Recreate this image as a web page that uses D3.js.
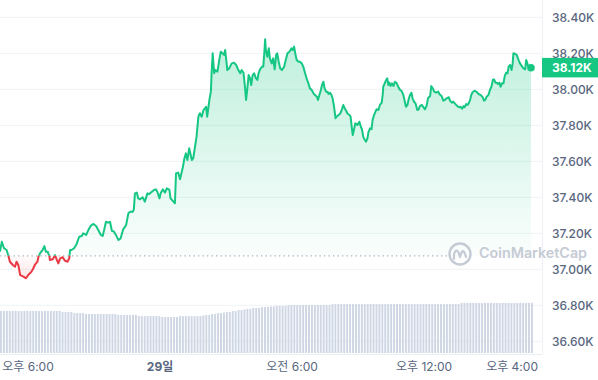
<!DOCTYPE html>
<html>
<head>
<meta charset="utf-8">
<script src="https://cdnjs.cloudflare.com/ajax/libs/d3/7.8.5/d3.min.js"></script>
<style>
body { margin: 0; background: #fff; }
text { font-family: Inter, "Noto Sans CJK KR", sans-serif; }
</style>
</head>
<body>
<div id="chart"></div>
<script>
// minutes after the first sample (28th, 16:45) and price in USD
const minutes = [
  0,5,11,18,23,27,35,41,45,50,
  55,64,71,77,86,91,95,102,105,109,
  116,121,125,130,135,136,144,150,155,159,
  164,171,177,184,189,191,195,202,209,216,
  223,227,235,241,247,255,262,268,275,280,
  284,289,295,300,305,311,316,323,329,336,
  344,350,355,362,365,368,373,377,382,389,
  395,402,407,414,420,425,429,435,438,444,
  450,455,462,465,473,477,480,486,491,498,
  503,507,511,516,523,527,536,541,545,550,
  555,562,565,571,575,577,580,584,587,593,
  598,602,607,611,614,616,620,625,632,638,
  644,650,655,659,664,668,671,675,678,682,
  685,689,693,698,702,705,709,715,718,721,
  723,725,729,733,736,741,745,749,753,756,
  760,764,769,775,778,784,789,795,798,802,
  805,809,814,818,823,827,832,836,841,845,
  850,855,859,864,867,871,875,878,882,885,
  889,893,896,900,904,907,911,915,918,923,
  927,932,936,940,944,947,953,956,960,962,
  965,969,975,980,984,987,991,995,998,1002,
  1005,1009,1013,1016,1020,1024,1027,1032,1036,1041,
  1044,1045,1049,1053,1056,1059,1062,1065,1069,1073,
  1077,1082,1086,1091,1095,1100,1104,1107,1111,1115,
  1118,1122,1125,1129,1133,1138,1142,1145,1150,1155,
  1159,1164,1167,1173,1176,1180,1184,1189,1195,1198,
  1204,1209,1213,1218,1224,1227,1232,1236,1242,1247,
  1253,1256,1260,1264,1267,1271,1275,1278,1282,1285,
  1289,1295,1300,1305,1311,1316,1320,1324,1327,1332,
  1336,1340,1344,1347,1351,1355,1358,1362,1365,1369,
  1373,1376,1380,1384,1387,1391,1395,1398,1400,1405,
  1409,1414,1418,1423,1427,1432,1435,1438,1442,1445,1448
];
const prices = [
  37098,37153,37117,37107,37074,37042,37024,37014,37042,37024,
  36968,36959,36950,36968,36987,37006,37024,37042,37070,37089,
  37107,37129,37098,37098,37070,37052,37056,37079,37052,37033,
  37061,37067,37048,37042,37061,37107,37107,37117,37141,37181,
  37185,37200,37191,37218,37241,37252,37241,37218,37191,37185,
  37218,37264,37259,37264,37214,37209,37191,37163,37172,37222,
  37246,37311,37320,37320,37333,37422,37426,37394,37389,37400,
  37376,37422,37418,37431,37441,37444,37431,37394,37422,37444,
  37426,37450,37441,37394,37376,37367,37533,37537,37500,37561,
  37617,37644,37607,37672,37607,37617,37737,37848,37867,37848,
  37885,37903,37848,37941,37987,38089,38200,38089,38107,38098,
  38163,38209,38200,38191,38218,38181,38107,38117,38144,38148,
  38135,38107,38089,38107,38092,38014,37941,38014,38079,38061,
  38024,38079,38089,38061,38052,38089,38111,38126,38126,38209,
  38278,38218,38181,38228,38172,38144,38172,38111,38191,38200,
  38153,38117,38107,38126,38153,38200,38209,38228,38218,38237,
  38200,38163,38153,38153,38144,38126,38089,38061,38033,38006,
  37996,37978,37968,37959,37941,37968,37996,38024,38042,38006,
  37987,37987,37974,37981,37968,37950,37903,37839,37848,37857,
  37863,37885,37913,37894,37881,37867,37857,37848,37774,37746,
  37774,37811,37802,37820,37792,37778,37733,37718,37709,37728,
  37764,37783,37778,37829,37857,37876,37889,37885,37913,37926,
  37978,38014,38033,38052,38061,38024,38037,38018,38033,38018,
  38042,38033,38014,37996,37991,37968,37931,37903,37913,37950,
  37968,37981,37950,37931,37922,37885,37889,37907,37913,37900,
  37889,37913,37950,37963,38018,38006,37987,37981,37987,37974,
  37963,37937,37941,37950,37956,37937,37926,37931,37918,37907,
  37900,37903,37892,37907,37900,37918,37913,37922,37941,37968,
  37985,37992,37985,37974,37968,37956,37937,37944,37959,37968,
  37996,38014,38052,38056,38037,38037,38029,38037,38014,38033,
  38033,38070,38092,38089,38126,38135,38107,38144,38200,38196,
  38191,38163,38144,38129,38117,38111,38163,38144,38117,38129,38120
];
const openPrice = 37075;

// 24h volume (billion USD), one bar every 8 minutes
const volumes = [
  14.0,14.0,14.0,14.0,14.0,14.0,14.0,14.0,14.0,14.0,
  14.0,14.0,14.0,14.0,14.0,14.0,14.0,14.0,14.0,14.0,14.0,
  13.7,13.7,13.7,13.7,13.3,13.3,13.3,13.3,
  13.0,13.0,13.0,13.0,13.0,13.0,13.0,13.0,13.0,13.0,13.0,
  12.7,12.7,12.7,12.7,12.7,12.7,12.7,
  12.3,12.3,12.3,12.3,12.3,12.3,12.3,12.3,
  12.0,12.0,12.0,12.0,12.0,12.0,
  12.3,12.3,12.3,12.3,12.3,12.3,12.3,12.3,
  12.5,12.7,12.7,13.0,13.0,13.3,13.3,13.5,13.7,13.7,14.0,14.0,14.3,14.3,14.5,14.7,14.7,
  15.0,15.0,15.0,15.3,15.3,15.3,15.5,15.5,15.7,15.7,15.7,15.7,16.0,16.0,16.0,16.0,16.0,
  16.0,16.0,16.0,16.0,16.0,16.0,16.0,16.0,16.0,16.0,
  16.3,16.3,16.3,16.3,16.3,16.3,16.3,16.3,16.3,16.3,16.3,16.3,
  16.3,16.3,16.3,16.3,16.3,16.3,16.3,16.3,16.3,16.3,16.3,16.3,
  16.3,16.3,16.3,16.3,16.3,16.3,16.3,16.3,16.3,16.3,
  16.3,16.3,16.3,16.3,16.3,16.3,16.3,16.3,16.3,16.3,
  16.7,16.7,16.7,16.7,16.7,16.7,16.7,16.7,16.7,16.7,
  16.7,16.7,16.7,16.7,16.7,16.7,16.7,16.7,16.7,16.7,
  16.7,16.7,16.7,16.7,16.7
];
const volStep = 8;

const yTicks = [36600, 36800, 37000, 37200, 37400, 37600, 37800, 38000, 38200, 38400];
const xTickHours = [18, 24, 30, 36, 40];   // hours from 00:00 on the 28th
const xTickLabels = ["오후 6:00", "29일", "오전 6:00", "오후 12:00", "오후 4:00"];
const boldTick = "29일";

const width = 598, height = 380;
const plotRight = 542, plotBottom = 354;
const green = "#16c784", red = "#ea3943";

const t0 = new Date(2023, 9, 28, 16, 45);
const at = m => new Date(t0.getTime() + m * 60000);
const data = prices.map((p, i) => ({ t: at(minutes[i]), p: p }));
const volData = volumes.map((v, i) => ({ t: at(i * volStep), v: v }));

const x = d3.scaleTime().domain([t0, at(1478)]).range([0, plotRight]);
const y = d3.scaleLinear().domain([36600, 38400]).range([341.3, 17.3]);
const vy = d3.scaleLinear().domain([0, 20]).range([353, 293]);
const yBase = y(openPrice);

const svg = d3.select("#chart").append("svg")
  .attr("width", width).attr("height", height)
  .style("display", "block");

const defs = svg.append("defs");
defs.append("clipPath").attr("id", "above").append("rect")
  .attr("x", 0).attr("y", 0).attr("width", plotRight).attr("height", yBase);
defs.append("clipPath").attr("id", "below").append("rect")
  .attr("x", 0).attr("y", yBase).attr("width", plotRight).attr("height", plotBottom - yBase);

const gGreen = defs.append("linearGradient").attr("id", "gGreen")
  .attr("gradientUnits", "userSpaceOnUse").attr("x1", 0).attr("x2", 0)
  .attr("y1", y(38300)).attr("y2", yBase);
gGreen.append("stop").attr("offset", 0).attr("stop-color", green).attr("stop-opacity", 0.28);
gGreen.append("stop").attr("offset", 1).attr("stop-color", green).attr("stop-opacity", 0.02);
const gRed = defs.append("linearGradient").attr("id", "gRed")
  .attr("gradientUnits", "userSpaceOnUse").attr("x1", 0).attr("x2", 0)
  .attr("y1", yBase).attr("y2", y(36950));
gRed.append("stop").attr("offset", 0).attr("stop-color", red).attr("stop-opacity", 0.02);
gRed.append("stop").attr("offset", 1).attr("stop-color", red).attr("stop-opacity", 0.12);

// grid
svg.append("g").selectAll("line").data(yTicks).enter().append("line")
  .attr("x1", 0).attr("x2", plotRight)
  .attr("y1", d => y(d)).attr("y2", d => y(d))
  .attr("stroke", "#eff2f5").attr("stroke-width", 1);
svg.append("line").attr("x1", plotRight + 0.5).attr("x2", plotRight + 0.5)
  .attr("y1", 0).attr("y2", plotBottom).attr("stroke", "#eceff3");
svg.append("line").attr("x1", 0).attr("x2", plotRight + 0.5)
  .attr("y1", plotBottom + 0.5).attr("y2", plotBottom + 0.5).attr("stroke", "#eceff3");

// volume
const bw = x(at(volStep)) - x(t0) - 1;
svg.append("g").selectAll("rect").data(volData).enter().append("rect")
  .attr("x", d => x(d.t))
  .attr("y", d => vy(d.v))
  .attr("width", bw)
  .attr("height", d => vy(0) - vy(d.v))
  .attr("fill", "#cfd6e4");

// area + line
const area = d3.area().x(d => x(d.t)).y0(yBase).y1(d => y(d.p));
const line = d3.line().x(d => x(d.t)).y(d => y(d.p));

svg.append("path").datum(data).attr("d", area)
  .attr("fill", "url(#gGreen)").attr("clip-path", "url(#above)");
svg.append("path").datum(data).attr("d", area)
  .attr("fill", "url(#gRed)").attr("clip-path", "url(#below)");

svg.append("line").attr("x1", 0).attr("x2", 447)
  .attr("y1", yBase).attr("y2", yBase)
  .attr("stroke", "#a6b0c3").attr("stroke-width", 1.2)
  .attr("stroke-dasharray", "1.3,3.2");

svg.append("path").datum(data).attr("d", line)
  .attr("fill", "none").attr("stroke", green).attr("stroke-width", 2)
  .attr("stroke-linejoin", "round").attr("clip-path", "url(#above)");
svg.append("path").datum(data).attr("d", line)
  .attr("fill", "none").attr("stroke", red).attr("stroke-width", 2)
  .attr("stroke-linejoin", "round").attr("clip-path", "url(#below)");

const last = data[data.length - 1];
svg.append("circle").attr("cx", x(last.t)).attr("cy", y(last.p)).attr("r", 3.8)
  .attr("fill", green);

// watermark
const wm = svg.append("g").attr("transform", "translate(460,254)");
wm.append("circle").attr("r", 10.5).attr("fill", "none")
  .attr("stroke", "#c5cbd5").attr("stroke-width", 2.4);
wm.append("path").attr("d", "M-6,5 L-6,0 Q-3.5,-7 -1,0 L0,3 Q2.5,-7 5,0 L6,3")
  .attr("fill", "none").attr("stroke", "#c5cbd5").attr("stroke-width", 2.2)
  .attr("stroke-linejoin", "round").attr("stroke-linecap", "round");
svg.append("text").attr("x", 479).attr("y", 252.5)
  .attr("dominant-baseline", "central")
  .attr("font-size", 14.3).attr("font-weight", 600).attr("fill", "#c5cbd5")
  .text("CoinMarketCap");

// y axis labels
const yAxis = d3.axisRight(y).tickValues(yTicks)
  .tickFormat(d => (d / 1000).toFixed(2) + "K").tickSize(0).tickPadding(10);
const gy = svg.append("g").attr("transform", `translate(${plotRight},0)`).call(yAxis);
gy.select(".domain").remove();
gy.selectAll("text").attr("font-size", 12).attr("font-weight", 500)
  .attr("fill", "#58667e").style("font-family", "Inter, sans-serif");

// price tag
svg.append("rect").attr("x", plotRight).attr("y", y(last.p) - 9.8)
  .attr("width", 56).attr("height", 19.5).attr("fill", green);
svg.append("text").attr("x", plotRight + 10).attr("y", y(last.p))
  .attr("dominant-baseline", "central")
  .attr("font-size", 12).attr("font-weight", 700).attr("fill", "#fff")
  .text((last.p / 1000).toFixed(2) + "K");

// x axis labels
const xDates = xTickHours.map(h => new Date(2023, 9, 28, h, 0));
const xAxis = d3.axisBottom(x).tickValues(xDates)
  .tickFormat((d, i) => xTickLabels[i]).tickSize(0).tickPadding(0);
const gx = svg.append("g").attr("transform", "translate(0,363)").call(xAxis);
gx.select(".domain").remove();
gx.selectAll("text").attr("font-size", 12).attr("fill", "#58667e")
  .attr("dy", "0.7em")
  .attr("font-weight", d => xTickLabels[xDates.indexOf(d)] === boldTick ? 700 : 400);
</script>
</body>
</html>
